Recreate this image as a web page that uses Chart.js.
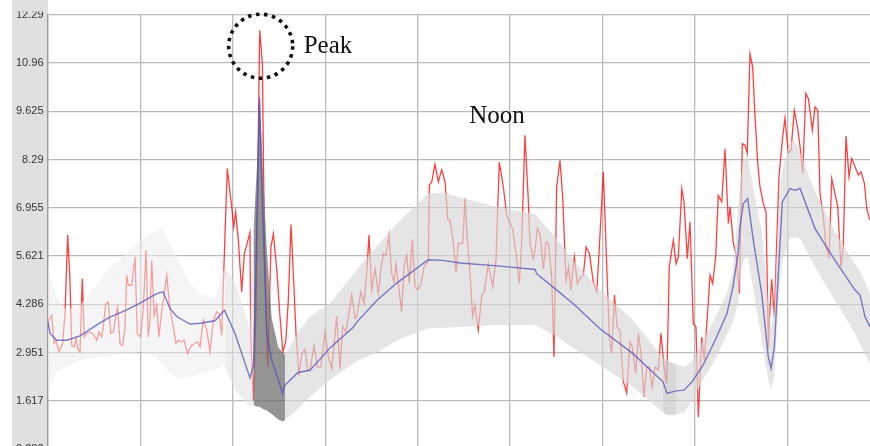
<!DOCTYPE html>
<html><head><meta charset="utf-8">
<script src="https://cdn.jsdelivr.net/npm/chart.js@4.4.1/dist/chart.umd.min.js"></script>
<style>html,body{margin:0;padding:0;background:#fff;overflow:hidden}#wrap{width:870px;height:446px;overflow:hidden;position:relative}</style>
</head><body><div id="wrap"><canvas id="c" width="870" height="470"></canvas></div>
<script>
const yTickValues = [0.282,1.617,2.951,4.286,5.621,6.955,8.29,9.625,10.96,12.29];
const yTickLabels = ['0.282','1.617','2.951','4.286','5.621','6.955','8.29','9.625','10.96','12.29'];
const xGridValues = [0,1,2,3,4,5,6,7,8];

const redT = [0.000,0.040,0.065,0.087,0.119,0.159,0.184,0.213,0.238,0.256,0.285,0.303,0.321,0.346,0.371,0.393,0.419,0.455,0.490,0.527,0.552,0.581,0.598,0.624,0.653,0.679,0.707,0.736,0.754,0.779,0.808,0.833,0.852,0.869,0.906,0.942,0.966,1.003,1.031,1.061,1.085,1.104,1.122,1.150,1.176,1.201,1.231,1.255,1.285,1.313,1.356,1.385,1.410,1.439,1.472,1.510,
1.555,1.591,1.620,1.645,1.681,1.718,1.753,1.789,1.826,1.851,1.880,1.905,1.940,1.988,2.010,2.031,2.060,2.096,2.125,2.186,2.194,2.222,2.251,2.291,2.320,2.341,2.378,2.413,2.439,2.475,2.511,2.541,2.573,2.601,2.630,2.655,2.684,2.716,2.746,2.781,2.811,2.835,
2.879,2.915,2.952,2.998,3.034,3.071,3.125,3.160,3.190,3.225,3.287,3.323,3.341,3.385,3.420,3.450,3.474,3.503,3.539,3.575,3.601,3.629,3.658,3.690,3.720,3.745,3.766,3.791,3.828,3.853,3.882,3.910,3.943,3.972,4.001,4.034,4.069,4.116,4.127,4.153,4.188,4.224,4.261,4.297,4.326,4.351,4.387,4.416,4.441,
4.488,4.513,4.538,4.567,4.596,4.621,4.657,4.694,4.722,4.765,4.813,4.848,4.884,4.928,4.964,5.000,5.029,5.065,5.101,5.127,5.162,5.198,5.216,5.252,5.271,5.296,5.325,5.361,5.390,5.415,5.451,5.476,5.505,5.541,5.570,5.606,5.635,5.657,5.696,5.729,5.765,5.794,5.823,5.859,5.902,5.939,5.967,6.010,6.075,6.101,6.131,6.158,6.190,6.226,6.263,6.299,
6.323,6.360,6.389,6.418,6.450,6.480,6.508,6.540,6.569,6.605,6.634,6.667,6.696,6.724,6.750,6.768,6.797,6.822,6.859,6.883,6.919,6.948,6.984,7.013,7.038,7.075,7.103,7.135,7.165,7.194,7.226,7.254,7.291,7.327,7.363,7.381,7.417,7.446,7.482,
7.514,7.543,7.568,7.597,7.626,7.652,7.681,7.706,7.742,7.771,7.796,7.807,7.832,7.861,7.887,7.911,7.947,7.976,8.012,8.041,8.077,8.114,8.139,8.168,8.201,8.229,8.272,8.301,8.331,8.355,8.391,8.420,8.452,8.482,8.517,8.547,8.582,8.607,8.636,8.669,8.698,8.734,8.770,8.799,8.835,8.861,8.896];
const redV = [3.80,3.98,3.21,3.29,2.97,3.21,4.04,6.20,4.95,3.15,3.11,3.35,3.07,2.97,5.00,3.38,3.48,3.52,3.46,3.29,3.52,3.38,3.66,4.29,4.35,3.48,3.52,3.98,4.21,3.20,3.15,3.62,5.09,4.81,4.81,5.60,3.48,3.38,4.17,5.78,3.38,3.85,5.50,3.98,4.26,3.38,4.12,4.49,5.09,4.31,3.66,3.20,3.29,3.25,3.29,2.92,
3.15,3.20,3.25,3.11,3.85,3.57,2.97,3.85,4.08,4.03,3.43,5.41,8.04,6.98,6.43,6.84,6.06,4.63,5.69,6.27,3.43,1.63,4.12,11.87,10.95,6.24,2.55,5.87,6.24,5.27,3.94,2.97,3.25,4.40,6.49,5.14,3.48,2.30,2.92,3.03,2.46,2.45,
3.15,2.55,2.55,3.52,2.83,2.51,3.96,2.51,3.68,3.52,4.54,3.89,3.94,4.63,4.31,5.18,6.20,4.68,5.27,4.58,5.23,5.69,5.64,6.20,5.14,4.90,5.41,4.86,4.07,5.32,5.64,4.86,6.08,4.77,4.69,4.81,5.32,5.50,7.58,7.67,8.16,7.67,8.01,7.67,6.63,6.61,5.97,5.18,5.97,
5.97,7.21,6.11,5.14,3.94,4.26,3.57,4.54,4.63,5.41,4.77,5.50,8.22,7.53,6.75,6.52,6.38,5.69,4.86,6.06,8.96,7.16,5.97,5.55,5.78,6.38,6.24,5.27,6.01,5.97,5.04,2.83,7.53,8.27,7.26,4.95,5.32,4.68,5.60,4.86,5.04,5.09,5.87,5.69,4.90,4.63,5.87,7.95,3.38,2.93,4.55,3.66,3.57,2.15,1.83,3.25,
3.11,2.37,3.48,2.92,1.72,2.55,2.55,2.00,2.55,2.46,3.48,2.55,2.09,5.32,5.78,6.06,5.41,5.60,7.49,7.12,5.55,6.56,3.75,3.66,1.17,3.38,2.74,3.94,5.09,4.86,5.60,7.30,7.12,8.59,6.52,6.98,5.97,5.69,4.58,
8.73,8.69,8.46,11.22,10.85,9.47,8.18,7.53,7.07,6.84,3.06,3.85,4.98,3.94,6.06,7.81,8.82,9.44,8.46,8.55,9.65,9.15,8.64,7.90,10.12,9.98,9.10,9.75,9.65,7.35,6.70,5.87,5.60,7.76,7.35,6.98,5.32,5.87,8.94,7.81,8.32,8.09,7.86,7.95,7.63,6.93,6.61];

const bandT = [0,0.022,0.094,0.202,0.346,0.563,0.671,0.852,0.996,1.176,1.245,1.320,1.396,1.537,1.645,1.807,1.910,2.024,2.186,2.224,2.259,2.289,2.319,2.367,2.421,2.492,2.538,2.565,2.706,2.835,3.052,3.301,3.344,3.561,3.777,4.116,4.275,4.459,4.859,4.978,5.271,5.292,5.487,5.703,5.974,6.331,6.656,6.699,6.797,6.883,6.970,7.089,7.229,7.348,7.413,7.468,7.489,7.525,7.572,7.633,7.724,7.795,7.825,7.861,7.904,7.947,8.030,8.084,8.139,8.301,8.517,8.734,8.788,8.842,8.896];
const meanV = [3.80,3.48,3.29,3.29,3.41,3.77,3.93,4.13,4.32,4.58,4.63,4.17,3.94,3.74,3.76,3.83,4.12,3.48,2.25,2.60,6.25,9.99,7.16,3.48,2.74,2.20,1.82,2.05,2.40,2.46,3.08,3.64,3.80,4.40,4.88,5.52,5.50,5.43,5.35,5.32,5.25,5.12,4.72,4.26,3.61,2.92,2.14,1.82,1.89,1.91,2.14,2.60,3.34,4.03,4.77,5.69,6.43,7.07,7.21,6.06,4.58,2.83,2.51,3.11,5.14,7.12,7.49,7.44,7.49,6.38,5.50,4.68,4.54,3.94,3.66];
const lowV = [1.63,2.00,2.46,2.55,2.74,2.83,2.86,2.92,2.97,2.83,2.60,2.37,2.23,2.28,2.37,2.46,2.60,1.90,1.45,1.50,1.45,1.45,1.40,1.35,1.25,1.10,1.05,1.08,1.40,1.72,2.20,2.65,2.72,2.95,3.29,3.62,3.64,3.66,3.71,3.71,3.71,3.68,3.42,3.05,2.60,2.00,1.30,1.22,1.24,1.30,1.62,2.20,2.80,3.45,3.80,4.30,5.00,5.50,5.60,4.70,3.30,2.20,1.95,2.30,4.30,5.50,6.10,6.15,6.10,5.32,4.40,3.48,3.20,2.90,2.65];
const highV = [5.42,5.00,4.49,4.12,4.25,4.95,5.32,5.69,6.06,6.33,6.38,5.97,5.60,4.85,4.58,4.45,5.30,4.90,3.60,6.30,8.00,10.10,8.40,5.80,3.90,3.10,2.95,2.90,3.50,3.94,4.31,5.10,5.25,5.90,6.52,7.35,7.38,7.25,6.98,6.92,6.78,6.72,6.15,5.45,4.68,3.85,2.80,2.74,2.62,2.55,2.70,3.30,3.95,4.60,5.20,6.90,7.60,8.30,8.40,7.50,6.30,4.30,3.60,4.20,6.80,8.00,8.80,8.80,8.50,7.40,6.30,5.40,5.20,4.90,4.58];

const notes = [
  {text:'Peak', t:2.291, v:11.87, kind:'circle'},
  {text:'Noon', t:4.86, v:9.29, kind:'label'}
];

const pts = (xs, ys) => xs.map((x,i)=>({x:x, y:ys[i]}));

function bandShade(t){
  if (t < 1.88) return 'rgba(236,236,236,0.55)';
  if (t < 2.19) return 'rgba(226,226,226,0.6)';
  if (t < 2.224) return 'rgba(160,160,160,0.6)';
  if (t < 2.565) return 'rgba(112,112,112,0.75)';
  if (t >= 6.656 && t < 6.797) return 'rgba(200,200,200,0.7)';
  return 'rgba(215,215,215,0.66)';
}

const axisPanel = {
  id:'axisPanel',
  beforeDraw(chart){
    const c = chart.ctx;
    c.save();
    c.fillStyle = '#e0e0e0';
    c.fillRect(12, 0, chart.chartArea.left - 12, chart.height);
    c.restore();
  },
  afterDraw(chart){
    const c = chart.ctx;
    c.save();
    c.fillStyle = '#e0e0e0';
    c.fillRect(12, 0, chart.chartArea.left - 13, 11.5);
    c.restore();
  }
};

const notePlugin = {
  id:'notes',
  afterDatasetsDraw(chart){
    const c = chart.ctx, xs = chart.scales.x, ys = chart.scales.y;
    c.save();
    c.font = '25px "Liberation Serif", "Times New Roman", serif';
    c.fillStyle = '#111';
    notes.forEach(n => {
      const px = xs.getPixelForValue(n.t), py = ys.getPixelForValue(n.v);
      if (n.kind === 'circle') {
        c.beginPath();
        c.strokeStyle = '#111';
        c.lineWidth = 3.6;
        c.setLineDash([3.5, 4.6]);
        c.arc(px + 1, py + 16, 32, 0, Math.PI * 2);
        c.stroke();
        c.setLineDash([]);
        c.textAlign = 'left';
        c.textBaseline = 'alphabetic';
        c.fillText(n.text, px + 44, py + 23);
      } else {
        c.textAlign = 'center';
        c.textBaseline = 'alphabetic';
        c.fillText(n.text, px, py);
      }
    });
    c.restore();
  }
};

Chart.defaults.font.family = '"Liberation Sans", Arial, sans-serif';
Chart.defaults.font.size = 11;

new Chart(document.getElementById('c'), {
  type:'line',
  data:{
    datasets:[
      {label:'value', data:pts(redT, redV), borderColor:'rgba(255,0,0,0.75)', borderWidth:1.3, pointRadius:0, fill:false, order:3, tension:0},
      {label:'low', data:pts(bandT, lowV), borderWidth:0, borderColor:'rgba(0,0,0,0)', pointRadius:0, fill:false, order:2, tension:0},
      {label:'high', data:pts(bandT, highV), borderWidth:0, borderColor:'rgba(0,0,0,0)', pointRadius:0, fill:1, order:1, tension:0,
        backgroundColor:'rgba(215,215,215,0.66)',
        segment:{backgroundColor: ctx => bandShade(bandT[ctx.p0DataIndex])}},
      {label:'mean', data:pts(bandT, meanV), borderColor:'rgba(80,80,185,0.75)', borderWidth:1.4, pointRadius:0, fill:false, order:0, tension:0}
    ]
  },
  options:{
    responsive:false, animation:false, devicePixelRatio:1,
    layout:{padding:{left:0, right:0, top:15, bottom:21}},
    plugins:{legend:{display:false}, tooltip:{enabled:false}},
    scales:{
      x:{type:'linear', min:0, max:8.896,
        afterBuildTicks: s => { s.ticks = xGridValues.map(v=>({value:v})); },
        afterFit: s => { s.height = 0; },
        ticks:{display:false},
        grid:{color:'#bababa', lineWidth:1.3, drawTicks:false},
        border:{display:false}},
      y:{type:'linear', min:0.282, max:12.29,
        afterBuildTicks: s => { s.ticks = yTickValues.map(v=>({value:v})); },
        afterFit: s => { s.width = 48; },
        ticks:{padding:4.5, color:'#333', font:{size:11}, callback:(v,i)=>yTickLabels[i]},
        grid:{color:'#bababa', lineWidth:1.3, drawTicks:false},
        border:{display:true, color:'#9a9a9a', width:1.3}}
    }
  },
  plugins:[axisPanel, notePlugin]
});
</script></body></html>
